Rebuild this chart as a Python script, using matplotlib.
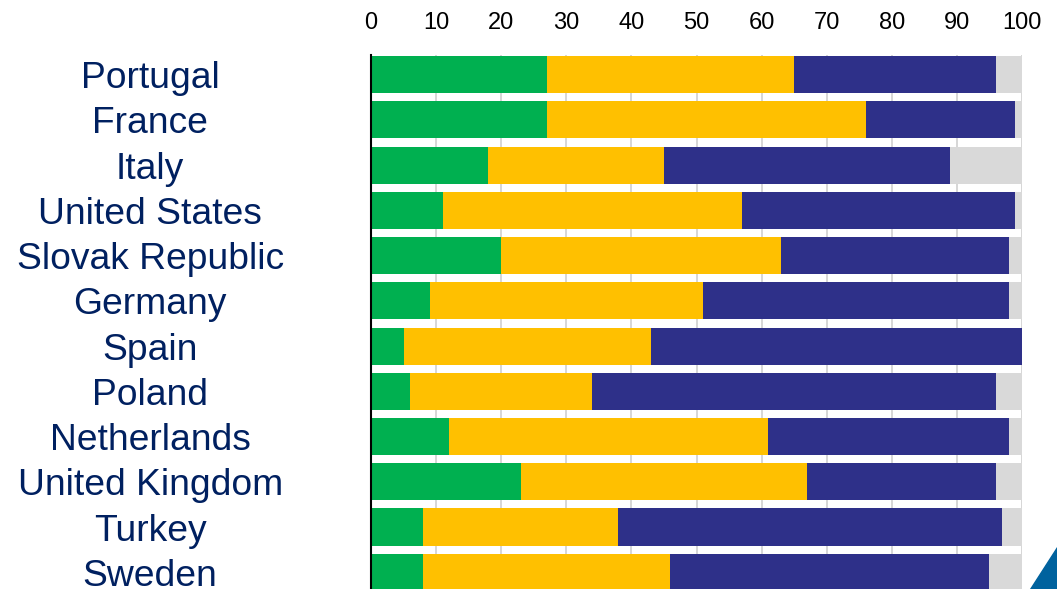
import matplotlib
matplotlib.use('Agg')
import matplotlib.pyplot as plt
import numpy as np
from matplotlib.patches import Polygon

plt.rcParams['font.family'] = ['Liberation Sans', 'DejaVu Sans']

countries = ['Portugal', 'France', 'Italy', 'United States', 'Slovak Republic',
             'Germany', 'Spain', 'Poland', 'Netherlands', 'United Kingdom',
             'Turkey', 'Sweden']

# shares per country (percent)
green = [27, 27, 18, 11, 20, 9, 5, 6, 12, 23, 8, 8]
yellow = [38, 49, 27, 46, 43, 42, 38, 28, 49, 44, 30, 38]
blue = [31, 23, 44, 42, 35, 47, 57, 62, 37, 29, 59, 49]
grey = [4, 1, 11, 1.5, 2, 2, 0, 4, 2, 4.5, 3.5, 5]

colors = ['#00B050', '#FFC000', '#2E3089', '#D9D9D9']
xticks = [0, 10, 20, 30, 40, 50, 60, 70, 80, 90, 100]

fig = plt.figure(figsize=(10.57, 5.89), dpi=100)
ax = fig.add_axes([371 / 1057, 0, (1022 - 371) / 1057, 1 - 55 / 589])

y = np.arange(len(countries))
left = np.zeros(len(countries))
for vals, c in zip([green, yellow, blue, grey], colors):
    ax.barh(y, vals, left=left, height=0.82, color=c, zorder=2)
    left = left + np.array(vals)

ax.set_xlim(0, 100)
ax.set_ylim(11.37, -0.435)
ax.set_xticks(xticks)
ax.xaxis.tick_top()
ax.tick_params(axis='x', length=0, pad=15, labelsize=17, labelcolor='black')
ax.grid(axis='x', color='#D0D0D0', linewidth=1.2, zorder=0)
ax.set_axisbelow(True)

ax.set_yticks(y, countries)
ax.tick_params(axis='y', length=0, pad=159, labelsize=26.8, labelcolor='#002060')
for lbl in ax.get_yticklabels():
    lbl.set_horizontalalignment('center')

for side in ['top', 'right', 'bottom']:
    ax.spines[side].set_visible(False)
ax.spines['left'].set_color('black')
ax.spines['left'].set_linewidth(1.5)
ax.spines['left'].set_zorder(3)

# corner decoration
tri = Polygon([[1030 / 1057, 0], [1, 0], [1, 42 / 589]], closed=True,
              transform=fig.transFigure, color='#00629E')
fig.patches.append(tri)

fig.savefig('out.png', dpi=100)
